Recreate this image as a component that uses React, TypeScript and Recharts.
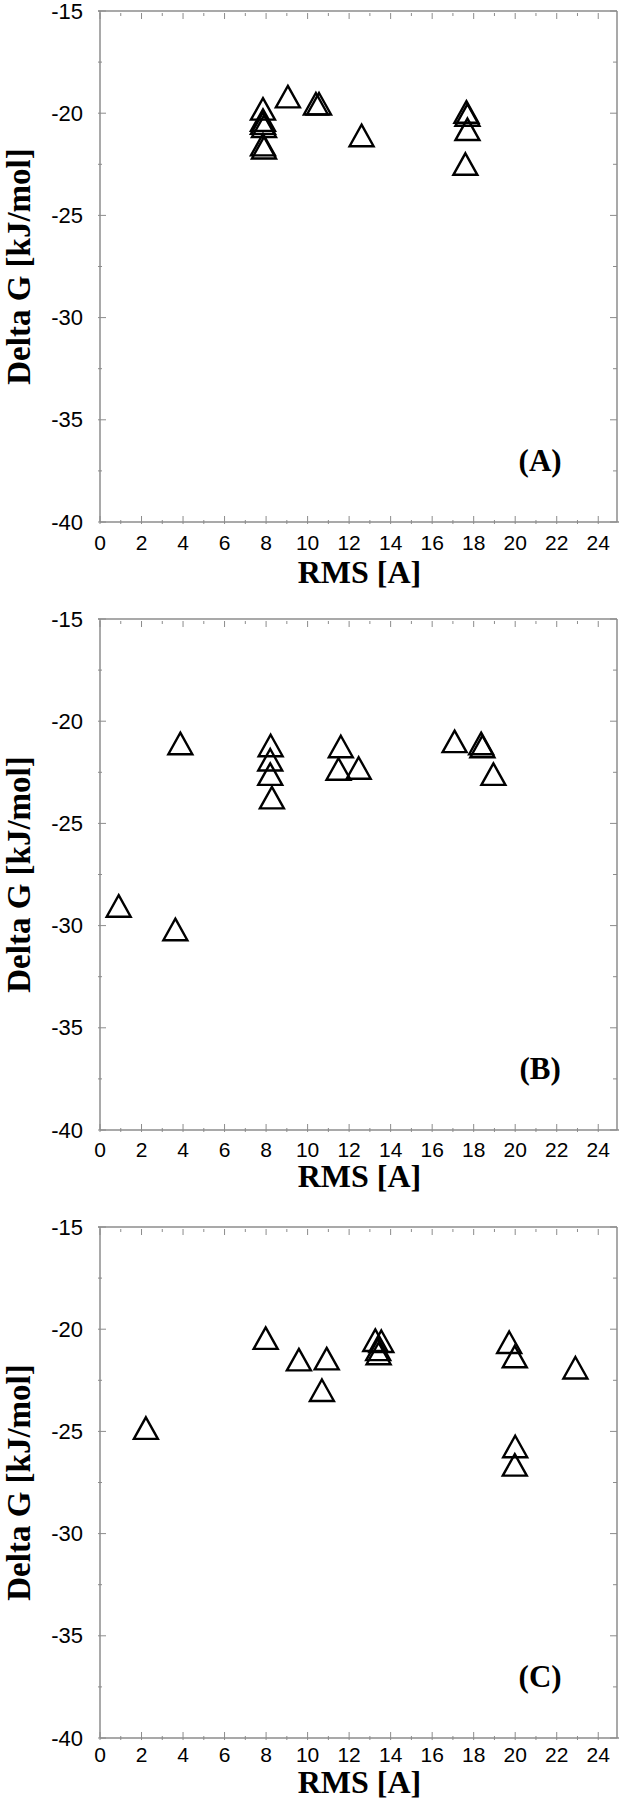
import React from "react";
import { ScatterChart, Scatter, XAxis, YAxis, ReferenceDot, Label } from "recharts";

// values: RMS [A] vs Delta G [kJ/mol]
const rmsA = [7.85, 7.85, 7.85, 7.9, 7.85, 7.9, 9.05, 10.4, 10.55, 12.6, 17.65, 17.7, 17.7, 17.6];
const dgA = [-19.8, -20.35, -20.5, -20.65, -21.55, -21.7, -19.2, -19.55, -19.55, -21.1, -19.95, -20.1, -20.8, -22.5];

const rmsB = [0.9, 3.63, 3.87, 8.22, 8.2, 8.2, 8.28, 11.6, 11.49, 12.46, 17.08, 18.36, 18.42, 18.95];
const dgB = [-29.05, -30.2, -21.1, -21.2, -21.9, -22.6, -23.75, -21.25, -22.35, -22.3, -21.0, -21.1, -21.25, -22.6];

const rmsC = [2.21, 7.98, 9.58, 10.92, 10.69, 13.26, 13.55, 13.4, 13.42, 19.71, 19.98, 22.9, 20.0, 19.98];
const dgC = [-24.85, -20.45, -21.5, -21.45, -23.0, -20.55, -20.6, -21.0, -21.2, -20.65, -21.35, -21.9, -25.75, -26.65];

const xTicks = [0, 1, 2, 3, 4, 5, 6, 7, 8, 9, 10, 11, 12, 13, 14, 15, 16, 17, 18, 19, 20, 21, 22, 23, 24];
const yTicks = [-40, -37.5, -35, -32.5, -30, -27.5, -25, -22.5, -20, -17.5, -15];

const panels = [
  { tag: "(A)", rms: rmsA, dg: dgA, tickGap: 18, titleGap: 50 },
  { tag: "(B)", rms: rmsB, dg: dgB, tickGap: 17, titleGap: 46 },
  { tag: "(C)", rms: rmsC, dg: dgC, tickGap: 14.5, titleGap: 44 },
];

// layout
const CHART_W = 622;
const CHART_H = 608;
const M_TOP = 11;
const M_RIGHT = 3;
const Y_AXIS_W = 100;
const X_AXIS_H = 86;
const PLOT_W = CHART_W - M_RIGHT - Y_AXIS_W;
const PLOT_H = CHART_H - M_TOP - X_AXIS_H;

const AXIS = "#8c8c8c";
const SANS = "'Liberation Sans', Arial, sans-serif";
const SERIF = "'Liberation Serif', 'Times New Roman', serif";

const isMajorX = (v: number) => v % 2 === 0;
const isMajorY = (v: number) => v % 5 === 0;

// bottom ticks also draw the mirrored stub on the top border
function makeBottomTick(gap: number) {
  return function BottomTick(props: any) {
    const { x, y, payload } = props;
    const major = isMajorX(payload.value);
    const top = y - PLOT_H;
    return (
      <g>
        <line x1={x} x2={x} y1={y} y2={y - (major ? 8 : 4)} stroke={AXIS} strokeWidth={1} />
        <line x1={x} x2={x} y1={top} y2={top + (major ? 6 : 3)} stroke={AXIS} strokeWidth={1} />
        {major && (
          <text x={x} y={y + gap} textAnchor="middle" dominantBaseline="central" fontFamily={SANS} fontSize={21} fill="#000">
            {payload.value}
          </text>
        )}
      </g>
    );
  };
}

// left ticks also draw the mirrored stub on the right border, plus the top/right frame lines
function LeftTick(props: any) {
  const { x, y, payload } = props;
  const v = payload.value;
  const major = isMajorY(v);
  const right = x + PLOT_W;
  return (
    <g>
      <line x1={x} x2={x + (major ? 8 : 4)} y1={y} y2={y} stroke={AXIS} strokeWidth={1} />
      <line x1={right} x2={right - (major ? 7 : 4)} y1={y} y2={y} stroke={AXIS} strokeWidth={1} />
      {v === -15 && <line x1={x} x2={right} y1={y} y2={y} stroke={AXIS} strokeWidth={1.5} />}
      {v === -40 && <line x1={right} x2={right} y1={y} y2={y - PLOT_H} stroke={AXIS} strokeWidth={1.5} />}
      {major && (
        <text x={x - 15} y={y} textAnchor="end" dominantBaseline="central" fontFamily={SANS} fontSize={22} fill="#000">
          {v}
        </text>
      )}
    </g>
  );
}

function Triangle(props: any) {
  const { cx, cy } = props;
  if (cx == null || cy == null) return null;
  const d = `M${cx},${cy - 11} L${cx + 12},${cy + 10.5} L${cx - 12},${cy + 10.5} Z`;
  return <path d={d} fill="none" stroke="#000" strokeWidth={2.4} strokeLinejoin="miter" />;
}

function makeXTitle(gap: number) {
  return function XTitle(props: any) {
    const vb = props.viewBox || { x: Y_AXIS_W, y: M_TOP + PLOT_H, width: PLOT_W, height: X_AXIS_H };
    return (
      <text x={vb.x + vb.width / 2} y={vb.y + gap} textAnchor="middle" dominantBaseline="central" fontFamily={SERIF} fontWeight="bold" fontSize={32} fill="#000">
        RMS [A]
      </text>
    );
  };
}

function YTitle(props: any) {
  const vb = props.viewBox || { x: 0, y: M_TOP, width: Y_AXIS_W, height: PLOT_H };
  const cy = vb.y + vb.height / 2;
  return (
    <text x={19} y={cy} transform={`rotate(-90, 19, ${cy})`} textAnchor="middle" dominantBaseline="central" fontFamily={SERIF} fontWeight="bold" fontSize={33} fill="#000">
      Delta G [kJ/mol]
    </text>
  );
}

function Panel({ tag, rms, dg, tickGap, titleGap }: { tag: string; rms: number[]; dg: number[]; tickGap: number; titleGap: number }) {
  const data = rms.map((r, i) => ({ rms: r, dg: dg[i] }));
  return (
    <ScatterChart width={CHART_W} height={CHART_H} margin={{ top: M_TOP, right: M_RIGHT, bottom: 0, left: 0 }}>
      <XAxis
        dataKey="rms"
        type="number"
        domain={[0, 25]}
        ticks={xTicks}
        interval={0}
        height={X_AXIS_H}
        tickSize={0}
        tickLine={false}
        tick={makeBottomTick(tickGap)}
        axisLine={{ stroke: AXIS, strokeWidth: 1.5 }}
        label={<Label content={makeXTitle(titleGap)} />}
      />
      <YAxis
        dataKey="dg"
        type="number"
        domain={[-40, -15]}
        ticks={yTicks}
        interval={0}
        width={Y_AXIS_W}
        tickSize={0}
        tickLine={false}
        tick={LeftTick}
        axisLine={{ stroke: AXIS, strokeWidth: 1.5 }}
        label={<Label content={YTitle} />}
      />
      <Scatter data={data} shape={Triangle} isAnimationActive={false} />
      <ReferenceDot
        x={21.2}
        y={-37}
        r={0}
        shape={(p: any) => (
          <text x={p.cx} y={p.cy} textAnchor="middle" dominantBaseline="central" fontFamily={SERIF} fontWeight="bold" fontSize={31} fill="#000">
            {tag}
          </text>
        )}
      />
    </ScatterChart>
  );
}

export default function App() {
  return (
    <div style={{ position: "absolute", left: 0, top: 0, width: CHART_W, background: "#fff" }}>
      {panels.map((p) => (
        <Panel key={p.tag} tag={p.tag} rms={p.rms} dg={p.dg} tickGap={p.tickGap} titleGap={p.titleGap} />
      ))}
    </div>
  );
}
